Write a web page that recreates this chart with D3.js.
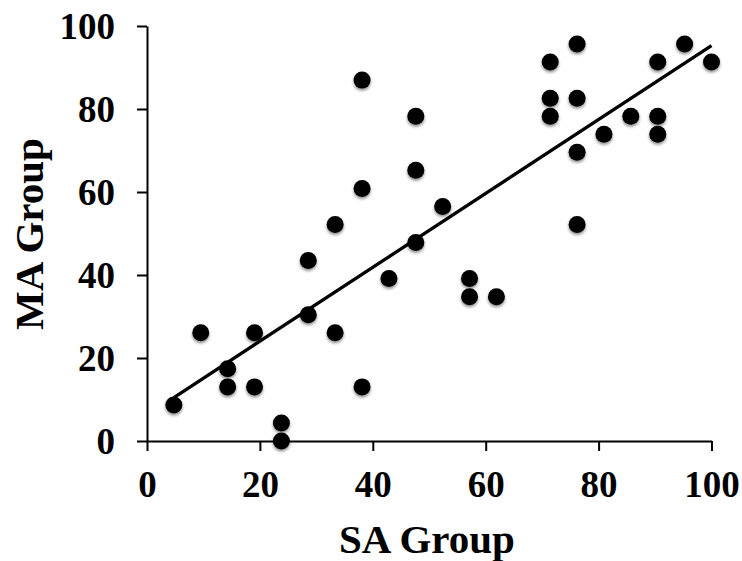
<!DOCTYPE html>
<html>
<head>
<meta charset="utf-8">
<script src="https://cdn.jsdelivr.net/npm/d3@7"></script>
<style>
  body { margin: 0; background: #fff; }
  svg { display: block; }
</style>
</head>
<body>
<svg width="742" height="561"></svg>
<script>
// SA score (x) and MA score (y) for each subject
var saValues = [4.76, 9.52, 14.29, 14.29, 19.05, 19.05, 23.81, 23.81, 28.57, 28.57,
    33.33, 33.33, 38.10, 38.10, 38.10, 42.86, 47.62, 47.62, 47.62, 52.38,
    57.14, 57.14, 61.90, 71.43, 71.43, 71.43, 76.19, 76.19, 76.19, 76.19,
    80.95, 85.71, 90.48, 90.48, 90.48, 95.24, 100];
var maValues = [8.70, 26.09, 17.39, 13.04, 26.09, 13.04, 4.35, 0, 30.43, 43.48,
    26.09, 52.17, 13.04, 60.87, 86.96, 39.13, 47.83, 65.22, 78.26, 56.52,
    39.13, 34.78, 34.78, 91.30, 82.61, 78.26, 95.65, 82.61, 69.57, 52.17,
    73.91, 78.26, 91.30, 78.26, 73.91, 95.65, 91.30];
var tickValues = [0, 20, 40, 60, 80, 100];
var xTitle = "SA Group";
var yTitle = "MA Group";

var svg = d3.select("svg");
var font = "'Liberation Serif', 'Times New Roman', serif";

var x = d3.scaleLinear().domain([0, 100]).range([147, 711.5]);
var y = d3.scaleLinear().domain([0, 100]).range([441, 26]);

var points = saValues.map(function (d, i) { return [d, maValues[i]]; });

// dot shadow
var defs = svg.append("defs");
defs.append("filter").attr("id", "shadow")
    .attr("x", "-50%").attr("y", "-50%").attr("width", "200%").attr("height", "200%")
  .append("feDropShadow")
    .attr("dx", 0).attr("dy", 2).attr("stdDeviation", 1.6)
    .attr("flood-color", "#000").attr("flood-opacity", 0.45);

// axes
var xAxis = svg.append("g")
    .attr("transform", "translate(0," + y(0) + ")")
    .call(d3.axisBottom(x).tickValues(tickValues).tickSize(10).tickSizeOuter(0).tickPadding(20));
var yAxis = svg.append("g")
    .attr("transform", "translate(" + x(0) + ",0)")
    .call(d3.axisLeft(y).tickValues(tickValues).tickSize(10).tickSizeOuter(0).tickPadding(22));

[xAxis, yAxis].forEach(function (g) {
    g.selectAll("path.domain").attr("stroke", "#000").attr("stroke-width", 2);
    g.selectAll(".tick line").attr("stroke", "#000").attr("stroke-width", 2);
    g.selectAll(".tick text")
        .attr("fill", "#000")
        .style("font-family", font)
        .style("font-weight", "bold")
        .style("font-size", "37px");
});
xAxis.selectAll(".tick text").attr("dy", "0.71em");
yAxis.selectAll(".tick text").attr("dy", "0.34em");

// least squares trend line
var mx = d3.mean(saValues), my = d3.mean(maValues);
var sxy = d3.sum(points, function (p) { return (p[0] - mx) * (p[1] - my); });
var sxx = d3.sum(points, function (p) { return (p[0] - mx) * (p[0] - mx); });
var slope = sxy / sxx, intercept = my - slope * mx;
var xExt = d3.extent(saValues);

svg.append("line")
    .attr("x1", x(xExt[0])).attr("y1", y(intercept + slope * xExt[0]))
    .attr("x2", x(xExt[1])).attr("y2", y(intercept + slope * xExt[1]))
    .attr("stroke", "#000").attr("stroke-width", 3.3);

// dots
svg.append("g").selectAll("circle")
    .data(points)
    .join("circle")
    .attr("cx", function (d) { return x(d[0]); })
    .attr("cy", function (d) { return y(d[1]); })
    .attr("r", 8.5)
    .attr("fill", "#000")
    .attr("filter", "url(#shadow)");

// axis titles
svg.append("text")
    .attr("x", 427).attr("y", 553)
    .attr("text-anchor", "middle")
    .style("font-family", font).style("font-weight", "bold").style("font-size", "41px")
    .text(xTitle);
svg.append("text")
    .attr("transform", "translate(43,234) rotate(-90)")
    .attr("text-anchor", "middle")
    .style("font-family", font).style("font-weight", "bold").style("font-size", "41px")
    .text(yTitle);
</script>
</body>
</html>
